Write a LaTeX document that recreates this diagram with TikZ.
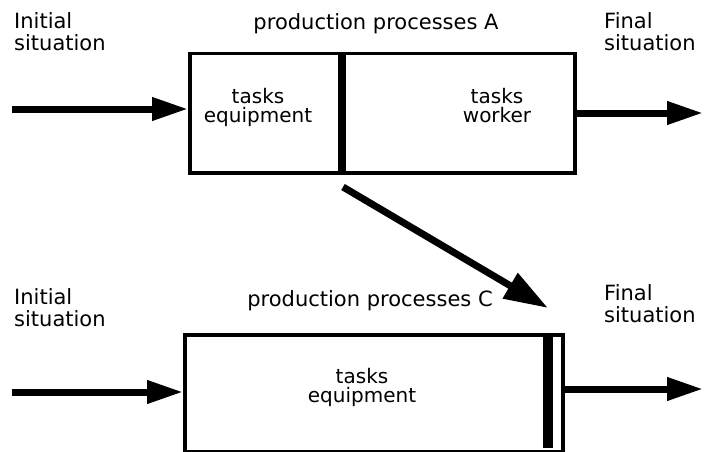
\documentclass[tikz,border=0pt]{standalone}
\usepackage{fontspec}
\setmainfont{DejaVu Sans}
\usetikzlibrary{arrows.meta}
\usetikzlibrary{positioning}
\tikzset{procbox/.style = {draw, rectangle, line width=3.5pt, inner sep=0pt, anchor=north west},
         flow/.style = {line width=7pt, -{Triangle[length=36pt, width=22pt]}},
         shiftarrow/.style = {line width=7pt, -{Triangle[length=44pt, width=28pt]}},
         sitlabel/.style = {font=\fontsize{21}{22}\selectfont, align=left, inner sep=0pt, anchor=north west},
         proclabel/.style = {font=\fontsize{21}{22}\selectfont, inner sep=0pt, anchor=base},
         tasklabel/.style = {font=\fontsize{20}{19.5}\selectfont, align=center, inner sep=0pt, anchor=north}}

\begin{document}
\begin{tikzpicture}[x=1pt, y=-1pt]
    \useasboundingbox (0, 0) rectangle (704, 452);

    % process A
    \node [procbox, minimum width=150, minimum height=119] (equipA) at (188, 52) {};
    \node [procbox, minimum width=235, minimum height=119] (workerA) at (338, 52) {};
    \draw [line width=8pt] (equipA.north east) -- (equipA.south east);
    \node [tasklabel] (taskEquipA) at (258, 88) {tasks\\equipment};
    \node [tasklabel] (taskWorkerA) at (497, 88) {tasks\\worker};
    \node [proclabel] (titleA) at (376, 30) {production processes A};
    \node [sitlabel] (initA) at (14, 12) {Initial\\situation};
    \node [sitlabel] (finalA) at (604, 12) {Final\\situation};

    \coordinate (inA) at (12, 109);
    \coordinate (outA) at (703, 113);
    \draw [flow] (inA) -- (inA -| equipA.west);
    \draw [flow] (workerA.east |- outA) -- (outA);

    % process C
    \node [procbox, minimum width=378, minimum height=117] (boxC) at (183, 333) {};
    \node [fill, inner sep=0pt, minimum width=10, minimum height=112, anchor=north west] (barC) at (543, 336) {};
    \node [tasklabel] (taskEquipC) at (362, 368) {tasks\\equipment};
    \node [proclabel] (titleC) at (370, 306) {production processes C};
    \node [sitlabel] (initC) at (14, 288) {Initial\\situation};
    \node [sitlabel] (finalC) at (604, 284) {Final\\situation};

    \coordinate (inC) at (12, 392);
    \coordinate (outC) at (703, 389);
    \draw [flow] (inC) -- (inC -| boxC.west);
    \draw [flow] (boxC.east |- outC) -- (outC);

    % shift from A to C
    \coordinate (fromA) at (343, 187);
    \coordinate (toC) at (548, 308);
    \draw [shiftarrow] (fromA) -- (toC);
\end{tikzpicture}
\end{document}
